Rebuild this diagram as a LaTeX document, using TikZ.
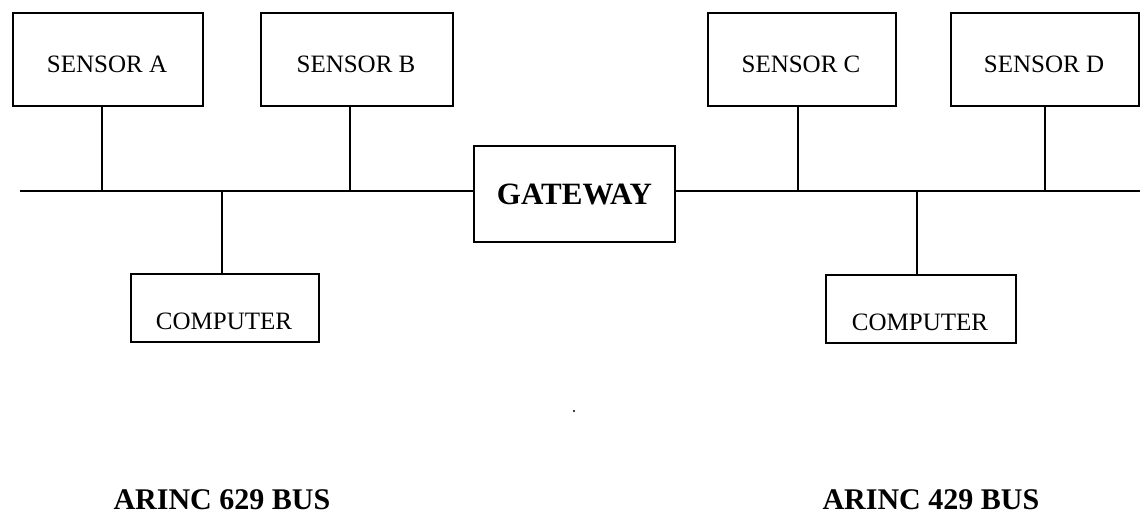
\documentclass[tikz,border=0pt]{standalone}
\usepackage{fontspec}
\setmainfont{Liberation Serif}
\begin{document}
\begin{tikzpicture}[x=1pt,y=-1pt,
  box/.style={draw,line width=2pt,inner sep=0pt,anchor=north west},
  wire/.style={line width=2pt},
  lbl/.style={font=\fontsize{25}{27}\selectfont},
  big/.style={font=\fontsize{31}{33}\selectfont\bfseries},
  bus/.style={font=\fontsize{30}{32}\selectfont\bfseries}]
\useasboundingbox (0,0) rectangle (1140,521);
\node[box,minimum width=190pt,minimum height=93pt] (sa) at (12,12) {};
\node[box,minimum width=192pt,minimum height=93pt] (sb) at (260,12) {};
\node[box,minimum width=188pt,minimum height=93pt] (sc) at (707,12) {};
\node[box,minimum width=188pt,minimum height=93pt] (sd) at (950,12) {};
\node[lbl] at (107,64) {SENSOR A};
\node[lbl] at (356,64) {SENSOR B};
\node[lbl] at (801,64) {SENSOR C};
\node[lbl] at (1044,64) {SENSOR D};
\node[box,minimum width=201pt,minimum height=96pt,big] (gw) at (473,145) {GATEWAY};
\node[box,minimum width=188pt,minimum height=68pt] (cl) at (130,273) {};
\node[box,minimum width=190pt,minimum height=68pt] (cr) at (825,274) {};
\node[lbl] at (224,321) {COMPUTER};
\node[lbl] at (920,322) {COMPUTER};
\coordinate (busL) at (20,191);
\coordinate (busR) at (1140,191);
\draw[wire] (busL) -- (gw.west |- busL);
\draw[wire] (gw.east |- busR) -- (busR);
\draw[wire] (sa.south -| 102,0) -- (102,191);
\draw[wire] (sb.south -| 350,0) -- (350,191);
\draw[wire] (cl.north -| 222,0) -- (222,191);
\draw[wire] (sc.south -| 798,0) -- (798,191);
\draw[wire] (sd.south -| 1045,0) -- (1045,191);
\draw[wire] (cr.north -| 917,0) -- (917,191);
\fill (574,411) circle (1.2pt);
\node[bus,anchor=west] (l1) at (110,500) {ARINC 629 BUS};
\node[bus,anchor=west] (l2) at (819,500) {ARINC 429 BUS};
\end{tikzpicture}
\end{document}
